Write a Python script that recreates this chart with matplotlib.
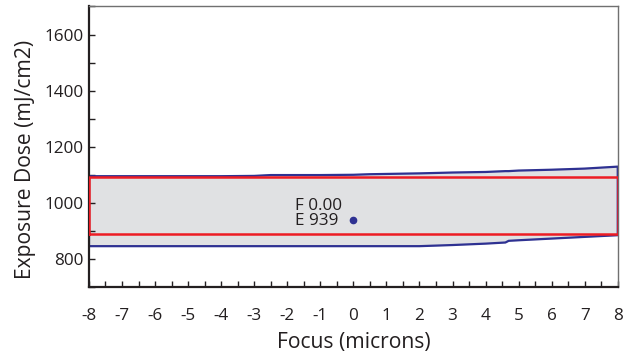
import matplotlib.pyplot as plt
from matplotlib.ticker import MultipleLocator

plt.rcParams['font.family'] = ['Open Sans', 'DejaVu Sans']
plt.rcParams['axes.unicode_minus'] = False

# process window envelope (focus in microns, dose in mJ/cm2)
focus = [-8, -7, -6, -5, -4, -3, -2.5, -2, -1, 0, 0.5, 1, 2, 3, 4, 4.6, 4.7, 5, 6, 7, 8]
upper = [1096, 1096, 1096, 1096, 1096, 1097, 1100, 1100, 1100, 1101, 1103, 1104, 1106,
         1109, 1111, 1114, 1114, 1116, 1119, 1123, 1130]
lower = [847, 847, 847, 847, 847, 847, 847, 847, 847, 847, 847, 847, 847,
         851, 856, 860, 866, 868, 874, 880, 886]

# rectangle fit to the window
rect_focus = [-8, 8]
rect_dose = [891, 1094]

# best point
best_focus = 0.00
best_dose = 939

blue = '#2E3192'
red = '#ED1C24'
txt = '#231F20'

fig = plt.figure(figsize=(6.31, 3.58), dpi=100)
ax = fig.add_axes([0.141, 0.197, 0.838, 0.785])

poly_x = focus + focus[::-1] + [focus[0]]
poly_y = upper + lower[::-1] + [upper[0]]
ax.fill(poly_x, poly_y, color='#E0E1E3', zorder=1)
ax.plot(poly_x, poly_y, color=blue, lw=1.6, zorder=2)

rx = [rect_focus[0], rect_focus[1], rect_focus[1], rect_focus[0], rect_focus[0]]
ry = [rect_dose[0], rect_dose[0], rect_dose[1], rect_dose[1], rect_dose[0]]
ax.plot(rx, ry, color=red, lw=1.8, zorder=3)

ax.plot(best_focus, best_dose, 'o', color=blue, ms=4.5, zorder=4)
ax.annotate('F %.2f\nE %d' % (best_focus, best_dose), (best_focus, best_dose),
            xytext=(-8, 5), textcoords='offset points', ha='right', va='center',
            multialignment='left', fontsize=12.3, color=txt, linespacing=0.88)

ax.set_xlim(-8, 8)
ax.set_ylim(700, 1700)
ax.xaxis.set_major_locator(MultipleLocator(1))
ax.xaxis.set_minor_locator(MultipleLocator(0.5))
ax.yaxis.set_major_locator(MultipleLocator(200))
ax.yaxis.set_minor_locator(MultipleLocator(100))
ax.set_yticks(range(800, 1700, 200))
ax.tick_params(which='both', direction='in', length=4, width=1, colors=txt,
               labelsize=12.3, labelcolor=txt)
ax.tick_params(axis='x', pad=15)
ax.tick_params(axis='y', pad=4)

for s in ['left', 'bottom']:
    ax.spines[s].set_linewidth(1.6)
    ax.spines[s].set_color(txt)
for s in ['top', 'right']:
    ax.spines[s].set_linewidth(1.0)
    ax.spines[s].set_color('#707070')

ax.set_xlabel('Focus (microns)', fontsize=15.2, color=txt, labelpad=5.5)
ax.set_ylabel('Exposure Dose (mJ/cm2)', fontsize=15.2, color=txt)
ax.yaxis.set_label_coords(-0.100, 0.454)

fig.savefig('out.png', dpi=100)
